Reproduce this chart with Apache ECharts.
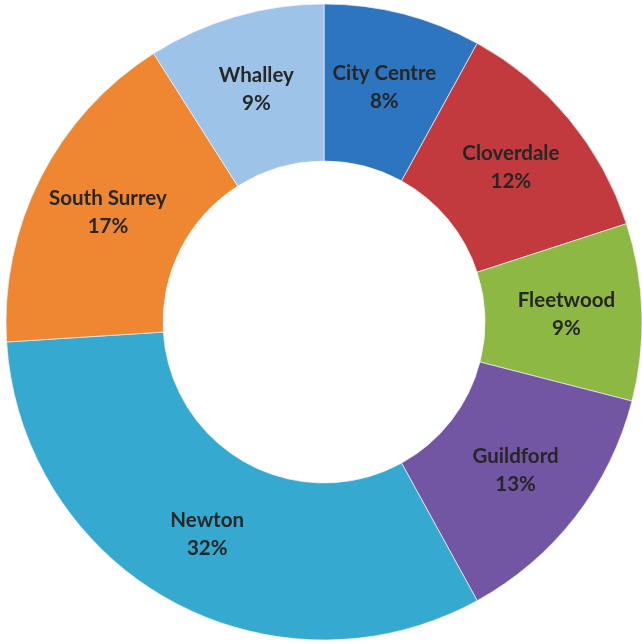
<!DOCTYPE html>
<html>
<head>
<meta charset="utf-8">
<script src="https://cdn.jsdelivr.net/npm/echarts@6/dist/echarts.min.js"></script>
<style>
  html, body { margin: 0; padding: 0; background: #ffffff; }
  #chart { width: 642px; height: 644px; }
</style>
</head>
<body>
<div id="chart"></div>
<script>
// Share of total by area (percent), clockwise from the top
const areas = ['City Centre', 'Cloverdale', 'Fleetwood', 'Guildford', 'Newton', 'South Surrey', 'Whalley'];
const shares = [8, 12, 9, 13, 32, 17, 9];
const sliceColors = ['#2E75BF', '#C23A3D', '#8DB843', '#7356A3', '#36A9D0', '#EE8632', '#9DC3E8'];

const chart = echarts.init(document.getElementById('chart'), null, { renderer: 'canvas' });

chart.setOption({
  backgroundColor: '#ffffff',
  animation: false,
  series: [{
    type: 'pie',
    center: [324, 322],
    radius: [161, 318],
    startAngle: 90,
    clockwise: true,
    avoidLabelOverlap: false,
    itemStyle: { borderColor: '#f4f4f4', borderWidth: 0.7 },
    label: {
      show: true,
      position: 'inside',
      formatter: p => p.name + '\n' + p.value + '%',
      color: '#262626',
      fontFamily: 'Lato',
      fontWeight: 'bold',
      fontSize: 20.5,
      lineHeight: 28
    },
    labelLine: { show: false },
    emphasis: { disabled: true },
    data: areas.map((name, i) => ({
      name: name,
      value: shares[i],
      itemStyle: { color: sliceColors[i] }
    }))
  }]
});
</script>
</body>
</html>
